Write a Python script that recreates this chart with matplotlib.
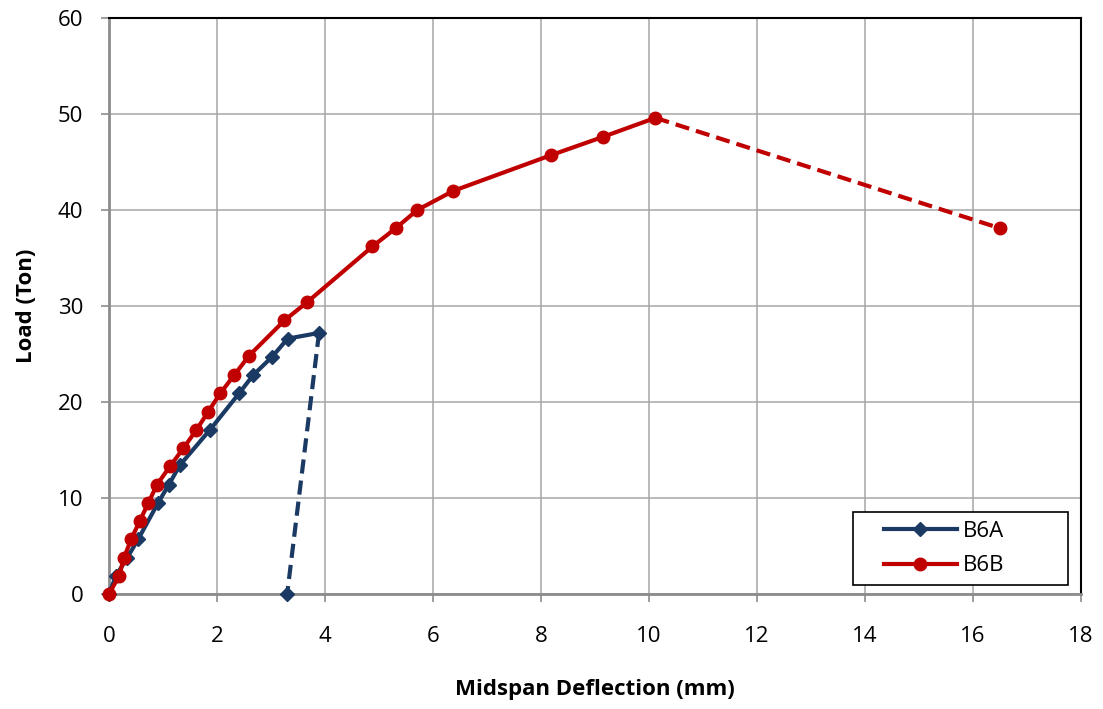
import matplotlib
matplotlib.use("Agg")
import matplotlib.pyplot as plt
from matplotlib.lines import Line2D
from matplotlib.patches import Rectangle

plt.rcParams['font.family'] = ['Open Sans', 'DejaVu Sans']

# Beam B6A: loading branch and post-peak drop
b6a_defl = [0.0, 0.13, 0.34, 0.54, 0.91, 1.11, 1.31, 1.87, 2.41, 2.67, 3.02, 3.31, 3.89]
b6a_load = [0.0, 1.9, 3.8, 5.7, 9.5, 11.4, 13.4, 17.1, 20.9, 22.8, 24.7, 26.6, 27.2]
b6a_drop_defl = [3.89, 3.30]
b6a_drop_load = [27.2, 0.0]

# Beam B6B: loading branch and post-peak drop
b6b_defl = [0.0, 0.19, 0.28, 0.41, 0.57, 0.73, 0.89, 1.13, 1.38, 1.62, 1.84, 2.06,
            2.32, 2.59, 3.25, 3.67, 4.88, 5.31, 5.71, 6.38, 8.18, 9.14, 10.12]
b6b_load = [0.0, 1.9, 3.8, 5.7, 7.6, 9.5, 11.4, 13.3, 15.2, 17.1, 19.0, 20.9,
            22.8, 24.8, 28.5, 30.4, 36.2, 38.1, 40.0, 42.0, 45.7, 47.6, 49.6]
b6b_drop_defl = [10.12, 16.5]
b6b_drop_load = [49.6, 38.1]

x_ticks = [0, 2, 4, 6, 8, 10, 12, 14, 16, 18]
y_ticks = [0, 10, 20, 30, 40, 50, 60]
series_names = ['B6A', 'B6B']

BLUE = '#1B3A63'
RED = '#C00000'
DASH = (0, (3.4, 1.7))

fig = plt.figure(figsize=(11.03, 7.09), dpi=100)
ax = fig.add_axes([0.0988, 0.1622, 0.8812, 0.8124])

ax.plot(b6a_drop_defl, b6a_drop_load, color=BLUE, lw=3, ls=DASH,
        marker='D', ms=7, markevery=[1], zorder=3, clip_on=False)
ax.plot(b6b_drop_defl, b6b_drop_load, color=RED, lw=3, ls=DASH,
        marker='o', ms=9, markevery=[1], zorder=3, clip_on=False)
ax.plot(b6a_defl, b6a_load, color=BLUE, lw=3, marker='D', ms=7, zorder=4, clip_on=False)
ax.plot(b6b_defl, b6b_load, color=RED, lw=3, marker='o', ms=9, zorder=5, clip_on=False)

ax.set_xlim(0, 18)
ax.set_ylim(0, 60)
ax.set_xticks(x_ticks)
ax.set_yticks(y_ticks)
ax.grid(True, color='#a6a6a6', lw=1.1)
ax.set_axisbelow(True)

for side in ('left', 'bottom'):
    ax.spines[side].set_color('#8c8c8c')
    ax.spines[side].set_linewidth(2)
for side in ('top', 'right'):
    ax.spines[side].set_color('black')
    ax.spines[side].set_linewidth(1.5)

ax.tick_params(axis='both', direction='out', length=6, width=1.2, color='#8c8c8c',
               labelsize=16)
ax.tick_params(axis='y', pad=12.5)
ax.tick_params(axis='x', pad=17)

ax.set_xlabel('Midspan Deflection (mm)', fontsize=16, fontweight='bold', labelpad=23)
ax.set_ylabel('Load (Ton)', fontsize=16, fontweight='bold', labelpad=15)

# legend frame drawn as a box, entries placed inside it
ax.add_patch(Rectangle((0.7654, 0.0156), 0.2212, 0.1267, transform=ax.transAxes,
                       facecolor='white', edgecolor='black', lw=1.2, zorder=6))
handles = [Line2D([], [], color=BLUE, lw=3, marker='D', ms=7),
           Line2D([], [], color=RED, lw=3, marker='o', ms=9)]
leg = ax.legend(handles, series_names, loc='center left', bbox_to_anchor=(0.7973, 0.079),
                fontsize=16, frameon=False, handlelength=3.27, handletextpad=0.3,
                borderpad=0, labelspacing=0.62, borderaxespad=0)
leg.set_zorder(7)

fig.savefig('out.png', dpi=100, facecolor='white')
